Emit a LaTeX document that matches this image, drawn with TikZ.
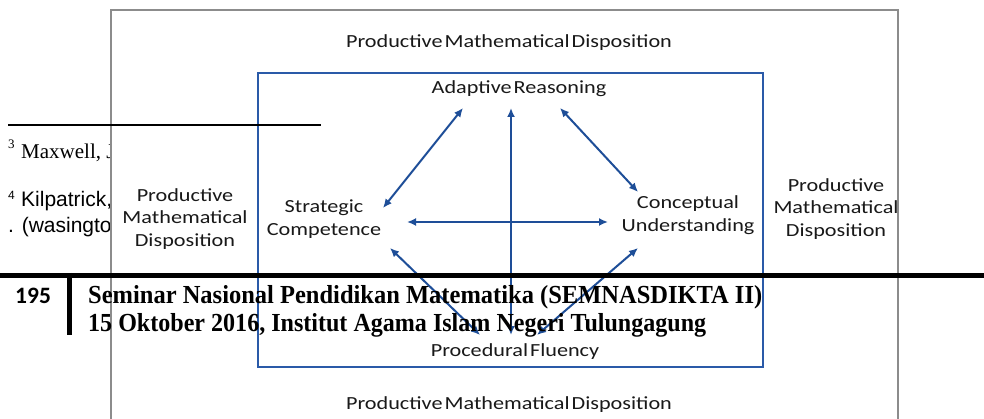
\documentclass[tikz,border=0pt]{standalone}
\usepackage{fontspec}
\usepackage{graphicx}
\setmainfont{Liberation Serif}
\newfontfamily\calib[FakeStretch=1.2,WordSpace=0.4]{Carlito}
\newfontfamily\calibb{Carlito}
\newfontfamily\arialf{Liberation Sans}
\usetikzlibrary{arrows.meta}
\definecolor{boxblue}{RGB}{42,90,168}
\definecolor{arrowblue}{RGB}{30,78,152}
\definecolor{framegray}{RGB}{140,140,140}
\tikzset{
  lbl/.style={font=\calib\fontsize{18.5}{22.5}\selectfont, align=center, inner sep=0pt, text=black!90},
  link/.style={draw=arrowblue, line width=2pt, {Latex[length=9pt,width=8pt]}-{Latex[length=9pt,width=8pt]}},
}
\begin{document}
\begin{tikzpicture}[x=1pt,y=-1pt]
\useasboundingbox (0,0) rectangle (984,419);
\clip (0,0) rectangle (984,419);
\fill[white] (0,0) rectangle (984,419);

% footnotes of the page underneath
\node[anchor=base west, inner sep=0pt, font=\fontsize{13}{13}\selectfont] (fn3) at (8,149) {3};
\node[anchor=base west, inner sep=0pt, font=\fontsize{21}{21}\selectfont] (fn3t) at (21,159) {Maxwell, J};
\node[anchor=base west, inner sep=0pt, font=\arialf\fontsize{12}{12}\selectfont] (fn4) at (8,200) {4};
\node[anchor=base west, inner sep=0pt, font=\arialf\fontsize{21}{21}\selectfont] (fn4t) at (21,207) {Kilpatrick, J};
\node[anchor=base west, inner sep=0pt, font=\arialf\fontsize{21}{21}\selectfont] (fn4u) at (8,233) {. (wasington};

% outer frame
\draw[framegray, line width=1.8pt, fill=white] (111,10) rectangle (898,440);
% inner frame
\draw[boxblue, line width=2.4pt] (258,73) rectangle (763,367);

% labels
\node[lbl] (pmdT) at (509,43) {Productive Mathematical Disposition};
\node[lbl] (pmdB) at (509,405) {Productive Mathematical Disposition};
\node[lbl] (pmdL) at (185,219) {Productive\\Mathematical\\Disposition};
\node[lbl] (pmdR) at (836,209) {Productive\\Mathematical\\Disposition};
\node[lbl] (ar) at (519,89) {Adaptive Reasoning};
\node[lbl] (sc) at (324,219) {Strategic\\Competence};
\node[lbl] (cu) at (688,215) {Conceptual\\Understanding};
\node[lbl] (pf) at (515,352) {Procedural Fluency};

% arrow ends
\coordinate (ar-l) at (463,108);
\coordinate (ar-m) at (511,108);
\coordinate (ar-r) at (560,108);
\coordinate (sc-t) at (383,208);
\coordinate (sc-r) at (407,222);
\coordinate (sc-b) at (390,248);
\coordinate (cu-t) at (638,192);
\coordinate (cu-l) at (608,222);
\coordinate (cu-b) at (638,248);
\coordinate (pf-l) at (480,335);
\coordinate (pf-m) at (511,335);
\coordinate (pf-r) at (537,335);

\draw[link] (ar-l) -- (sc-t);
\draw[link] (ar-m) -- (pf-m);
\draw[link] (ar-r) -- (cu-t);
\draw[link] (sc-r) -- (cu-l);
\draw[link] (sc-b) -- (pf-l);
\draw[link] (cu-b) -- (pf-r);

% page furniture on top
\coordinate (rule-a) at (8,125);
\coordinate (rule-b) at (321,125);
\draw[black, line width=1.2pt] (rule-a) -- (rule-b);
\coordinate (foot-a) at (0,275.5);
\coordinate (foot-b) at (984,275.5);
\draw[black, line width=5pt] (foot-a) -- (foot-b);
\coordinate (bar-a) at (69.5,273);
\coordinate (bar-b) at (69.5,335);
\draw[black, line width=5pt] (bar-a) -- (bar-b);

\node[anchor=base west, inner sep=0pt, font=\calibb\bfseries\fontsize{23.5}{23.5}\selectfont] (pg) at (15,303) {195};
\node[anchor=base west, inner sep=0pt, font=\bfseries\fontsize{26}{26}\selectfont] (hd1) at (88,303)
  {\resizebox{674pt}{\height}{Seminar Nasional Pendidikan Matematika (SEMNASDIKTA II)}};
\node[anchor=base west, inner sep=0pt, font=\bfseries\fontsize{26}{26}\selectfont] (hd2) at (88,331)
  {\resizebox{618pt}{\height}{15 Oktober 2016, Institut Agama Islam Negeri Tulungagung}};
\end{tikzpicture}
\end{document}
